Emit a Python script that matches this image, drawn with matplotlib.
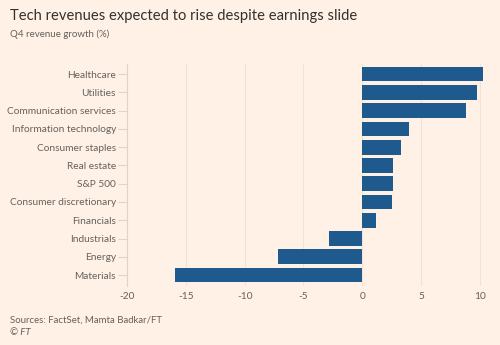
import matplotlib
matplotlib.use("Agg")
import matplotlib.pyplot as plt

sectors = ["Healthcare", "Utilities", "Communication services", "Information technology",
           "Consumer staples", "Real estate", "S&P 500", "Consumer discretionary",
           "Financials", "Industrials", "Energy", "Materials"]
growth = [10.3, 9.75, 8.85, 3.95, 3.25, 2.6, 2.6, 2.5, 1.2, -2.8, -7.2, -15.9]
xticks = [-20, -15, -10, -5, 0, 5, 10]

bg = "#fff1e5"
bar_col = "#1f5a8e"
grey = "#66605c"

plt.rcParams["font.family"] = ["Lato", "DejaVu Sans"]

fig = plt.figure(figsize=(5, 3.45), dpi=100, facecolor=bg)
ax = fig.add_axes([0.254, 0.171, 0.72, 0.644], facecolor=bg)

ypos = list(range(len(sectors)))
ax.barh(ypos, growth, height=0.8, color=bar_col, zorder=3)
ax.set_ylim(len(sectors) - 0.4, -0.565)
ax.set_xlim(-20, 10.6)
ax.set_yticks(ypos)
ax.set_yticklabels(sectors)
ax.set_xticks(xticks)
ax.set_xticklabels([str(t) for t in xticks])
ax.grid(axis="x", color="#efe3d9", linewidth=0.8, zorder=0)
for s in ["top", "right", "bottom"]:
    ax.spines[s].set_visible(False)
ax.spines["left"].set_color("#e0d4ca")
ax.spines["left"].set_linewidth(0.8)
ax.tick_params(axis="y", length=6.5, color="#e0d4ca", labelcolor=grey, labelsize=7.3, pad=1.5)
ax.tick_params(axis="x", length=0, labelcolor=grey, labelsize=7.3, pad=4)

fig.text(0.02, 0.975, "Tech revenues expected to rise despite earnings slide",
         fontsize=10.6, color="#33302e", va="top")
fig.text(0.02, 0.915, "Q4 revenue growth (%)", fontsize=7, color=grey, va="top")
fig.text(0.02, 0.085, "Sources: FactSet, Mamta Badkar/FT", fontsize=6.9, color=grey, va="top")
fig.text(0.02, 0.048, "© FT", fontsize=6.9, color=grey, va="top", style="italic")

fig.savefig("out.png", dpi=100, facecolor=bg)
